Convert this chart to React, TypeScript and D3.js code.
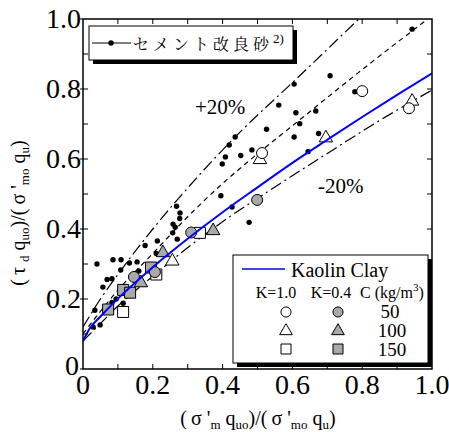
import React from "react";
import * as d3 from "d3";

// ---- data ----
const sandX = [0.943, 0.708, 0.605, 0.561, 0.610, 0.667, 0.621, 0.526, 0.436, 0.605, 0.675, 0.484, 0.645, 0.452, 0.419, 0.408, 0.399, 0.779, 0.395, 0.427, 0.476, 0.268, 0.278, 0.277, 0.258, 0.264, 0.257, 0.270, 0.213, 0.178, 0.210, 0.040, 0.086, 0.109, 0.133, 0.155, 0.108, 0.160, 0.069, 0.083, 0.057, 0.095, 0.034, 0.115, 0.083, 0.029, 0.049];
const sandY = [0.971, 0.838, 0.814, 0.754, 0.732, 0.737, 0.701, 0.685, 0.663, 0.663, 0.673, 0.626, 0.621, 0.610, 0.640, 0.606, 0.586, 0.792, 0.495, 0.463, 0.419, 0.465, 0.446, 0.430, 0.414, 0.405, 0.389, 0.371, 0.366, 0.353, 0.330, 0.300, 0.312, 0.312, 0.303, 0.306, 0.283, 0.280, 0.256, 0.258, 0.234, 0.200, 0.168, 0.188, 0.190, 0.120, 0.126];

// Kaolin clay markers: K=1.0 (open) and K=0.4 (grey), by cement content
const k1c50X = [0.513, 0.800, 0.934];
const k1c50Y = [0.617, 0.794, 0.745];
const k1c100X = [0.507, 0.696, 0.943, 0.256];
const k1c100Y = [0.598, 0.660, 0.765, 0.308];
const k1c150X = [0.115, 0.210, 0.335];
const k1c150Y = [0.163, 0.270, 0.389];
const k04c50X = [0.146, 0.206, 0.310, 0.499];
const k04c50Y = [0.263, 0.277, 0.390, 0.483];
const k04c100X = [0.166, 0.229, 0.373];
const k04c100Y = [0.246, 0.332, 0.395];
const k04c150X = [0.072, 0.115, 0.135, 0.195];
const k04c150Y = [0.170, 0.226, 0.218, 0.290];

// Kaolin clay fitted curve (blue)
const kaolinX = [0, 0.02, 0.05, 0.1, 0.2, 0.3, 0.4, 0.5, 0.6, 0.7, 0.8, 0.9, 1.0];
const kaolinY = [0.08, 0.117, 0.15, 0.201, 0.291, 0.372, 0.448, 0.519, 0.589, 0.655, 0.72, 0.783, 0.845];

// cement-improved sand line and +-20% lines
const midX = [0, 0.05, 0.1, 0.2, 0.3, 0.4, 0.47, 0.62, 0.788, 0.988];
const midY = [0.10, 0.165, 0.225, 0.33, 0.435, 0.53, 0.59, 0.711, 0.846, 1.0];
const upX = [0, 0.05, 0.1, 0.2, 0.27, 0.45, 0.602, 0.79];
const upY = [0.12, 0.2, 0.27, 0.40, 0.483, 0.677, 0.82, 1.0];
const loX = [0, 0.05, 0.1, 0.2, 0.307, 0.413, 0.55, 0.716, 0.85, 1.0];
const loY = [0.08, 0.13, 0.18, 0.265, 0.352, 0.43, 0.52, 0.626, 0.71, 0.797];

const xTicks = [0, 0.2, 0.4, 0.6, 0.8, 1.0];
const xTickLabels = ["0", "0.2", "0.4", "0.6", "0.8", "1.0"];
const yTicks = [0, 0.2, 0.4, 0.6, 0.8, 1.0];
const yTickLabels = ["0", "0.2", "0.4", "0.6", "0.8", "1.0"];
const minorTicks = [0.1, 0.2, 0.3, 0.4, 0.5, 0.6, 0.7, 0.8, 0.9];

const W = 449, H = 432;
const L = 83, R = 432, T = 19, B = 369;
const SERIF = "Liberation Serif";

const zip = (a: number[], b: number[]) => a.map((v, i) => [v, b[i]] as [number, number]);

export default function App() {
  const x = d3.scaleLinear().domain([0, 1]).range([L, R]);
  const y = d3.scaleLinear().domain([0, 1]).range([B, T]);
  const line = d3.line<[number, number]>().x(d => x(d[0])).y(d => y(d[1])).curve(d3.curveMonotoneX);

  const circ = d3.symbol(d3.symbolCircle, 95)()!;
  const tri = d3.symbol(d3.symbolTriangle, 78)()!;
  const sq = d3.symbol(d3.symbolSquare, 121)()!;
  const circS = d3.symbol(d3.symbolCircle, 80)()!;
  const triS = d3.symbol(d3.symbolTriangle, 70)()!;
  const sqS = d3.symbol(d3.symbolSquare, 100)()!;

  const grey = "#a9a9a9";
  const markerSets = [
    { xs: k04c150X, ys: k04c150Y, p: sq, fill: grey },
    { xs: k1c150X, ys: k1c150Y, p: sq, fill: "#fff" },
    { xs: k04c50X, ys: k04c50Y, p: circ, fill: grey },
    { xs: k04c100X, ys: k04c100Y, p: tri, fill: grey },
    { xs: k1c100X, ys: k1c100Y, p: tri, fill: "#fff" },
    { xs: k1c50X, ys: k1c50Y, p: circ, fill: "#fff" },
  ];

  return (
    <svg width={W} height={H} style={{ position: "absolute", left: 0, top: 0, background: "#fff" }}>
      <rect x={0} y={0} width={W} height={H} fill="#fff" />
      <defs>
        <clipPath id="plot">
          <rect x={L} y={T} width={R - L} height={B - T} />
        </clipPath>
      </defs>

      {/* reference lines */}
      <g clipPath="url(#plot)" fill="none" stroke="#000" strokeWidth={1.2}>
        <path d={line(zip(upX, upY))!} strokeDasharray="12 4 2 4" />
        <path d={line(zip(loX, loY))!} strokeDasharray="12 4 2 4" />
        <path d={line(zip(midX, midY))!} strokeDasharray="5 4" />
      </g>

      {/* sand dots */}
      <g fill="#000">
        {sandX.map((v, i) => (
          <circle key={i} cx={x(v)} cy={y(sandY[i])} r={2.7} />
        ))}
      </g>

      {/* kaolin markers */}
      {markerSets.map((s, j) => (
        <g key={j} stroke="#000" strokeWidth={1}>
          {s.xs.map((v, i) => (
            <path key={i} d={s.p} fill={s.fill} transform={`translate(${x(v)},${y(s.ys[i])})`} />
          ))}
        </g>
      ))}

      {/* kaolin curve */}
      <path d={line(zip(kaolinX, kaolinY))!} fill="none" stroke="#0000ff" strokeWidth={2} clipPath="url(#plot)" />

      {/* frame and ticks */}
      <rect x={L} y={T} width={R - L} height={B - T} fill="none" stroke="#000" strokeWidth={1.5} />
      <g stroke="#000" strokeWidth={1}>
        {minorTicks.map((t, i) => (
          <g key={i}>
            <line x1={x(t)} x2={x(t)} y1={B} y2={B - 5} />
            <line x1={x(t)} x2={x(t)} y1={T} y2={T + 5} />
            <line x1={L} x2={L + 5} y1={y(t)} y2={y(t)} />
            <line x1={R} x2={R - 5} y1={y(t)} y2={y(t)} />
          </g>
        ))}
        {yTicks.map((t, i) => (
          <line key={"yo" + i} x1={L - 3} x2={L} y1={y(t)} y2={y(t)} />
        ))}
      </g>

      {/* tick labels */}
      <g fill="#000" fontFamily={SERIF} fontSize={28}>
        {xTicks.map((t, i) => (
          <text key={i} x={x(t)} y={394} textAnchor="middle">{xTickLabels[i]}</text>
        ))}
        {yTicks.map((t, i) => (
          <text key={i} x={i === 0 ? 79 : 81} y={y(t) + (i === 0 ? 6 : 9)} textAnchor="end">{yTickLabels[i]}</text>
        ))}
      </g>

      {/* axis titles */}
      <text x={258} y={425} textAnchor="middle" fontFamily={SERIF} fontSize={20}>
        (<tspan dx={4}>σ '</tspan>
        <tspan fontSize={13} dy={4}>m</tspan>
        <tspan dy={-4}> q</tspan>
        <tspan fontSize={13} dy={4}>uo</tspan>
        <tspan dy={-4}>)/(</tspan>
        <tspan dx={4}>σ '</tspan>
        <tspan fontSize={13} dy={4}>mo</tspan>
        <tspan dy={-4}> q</tspan>
        <tspan fontSize={13} dy={4}>u</tspan>
        <tspan dy={-4}>)</tspan>
      </text>
      <text transform="translate(25,213) rotate(-90)" textAnchor="middle" fontFamily={SERIF} fontSize={20}>
        (<tspan dx={4}>τ </tspan>
        <tspan fontSize={13} dy={4}>d</tspan>
        <tspan dy={-4}> q</tspan>
        <tspan fontSize={13} dy={4}>uo</tspan>
        <tspan dy={-4}>)/(</tspan>
        <tspan dx={4}>σ '</tspan>
        <tspan fontSize={13} dy={4}>mo</tspan>
        <tspan dy={-4}> q</tspan>
        <tspan fontSize={13} dy={4}>u</tspan>
        <tspan dy={-4}>)</tspan>
      </text>

      {/* annotations */}
      <text x={195} y={114} fontFamily={SERIF} fontSize={21}>+20%</text>
      <text x={318} y={193} fontFamily={SERIF} fontSize={21}>-20%</text>

      {/* legend 1 */}
      <g>
        <rect x={93} y={30} width={204} height={34} fill="#000" />
        <rect x={89} y={26} width={204} height={34} fill="#fff" stroke="#000" strokeWidth={1} />
        <line x1={92} x2={131} y1={43} y2={43} stroke="#000" strokeWidth={1} />
        <circle cx={111} cy={43} r={2.7} fill="#000" />
        <text x={133} y={50} fontFamily="Noto Serif CJK JP" fontSize={16} letterSpacing={4}>
          セメント改良砂<tspan fontFamily={SERIF} fontSize={13} dy={-7} letterSpacing={0}>2)</tspan>
        </text>
      </g>

      {/* legend 2 */}
      <g>
        <rect x={237} y={259} width={195} height={108} fill="#000" />
        <rect x={233} y={255} width={195} height={108} fill="#fff" stroke="#000" strokeWidth={1} />
        <line x1={242} x2={285} y1={269} y2={269} stroke="#0000ff" strokeWidth={1.5} />
        <text x={291} y={277} fontFamily={SERIF} fontSize={20}>Kaolin Clay</text>
        <g fontFamily={SERIF} fontSize={16}>
          <text x={276} y={298} textAnchor="middle">K=1.0</text>
          <text x={331} y={298} textAnchor="middle">K=0.4</text>
          <text x={360} y={298}>C (kg/m<tspan fontSize={11} dy={-7}>3</tspan><tspan dy={7}>)</tspan></text>
        </g>
        <g stroke="#000" strokeWidth={1}>
          <path d={circS} fill="#fff" transform="translate(286,312)" />
          <path d={circS} fill={grey} transform="translate(338,312)" />
          <path d={triS} fill="#fff" transform="translate(286,331)" />
          <path d={triS} fill={grey} transform="translate(338,331)" />
          <path d={sqS} fill="#fff" transform="translate(286,349)" />
          <path d={sqS} fill={grey} transform="translate(338,349)" />
        </g>
        <g fontFamily={SERIF} fontSize={19} textAnchor="middle">
          <text x={390} y={318}>50</text>
          <text x={392} y={337}>100</text>
          <text x={392} y={356}>150</text>
        </g>
      </g>
    </svg>
  );
}
